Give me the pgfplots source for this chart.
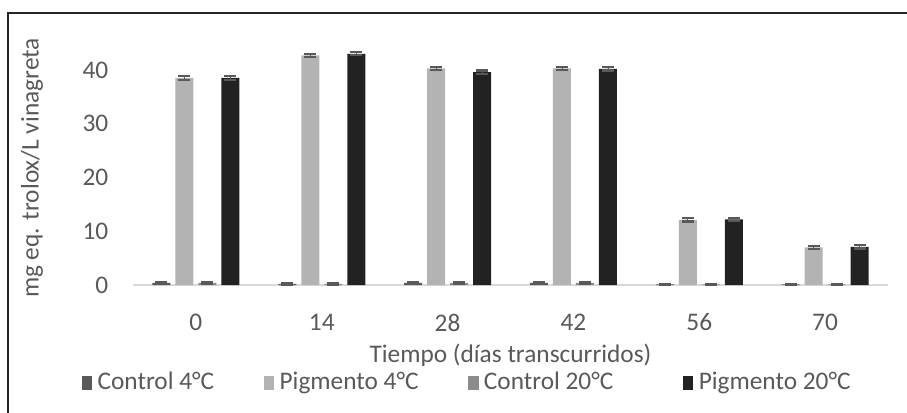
\documentclass[border=0pt]{standalone}
\usepackage{pgfplots}
\pgfplotsset{compat=1.18}
\usepackage{pgfplotstable}
\usepackage{fontspec}
\setmainfont{Carlito}
\definecolor{cA}{HTML}{595959}
\definecolor{cB}{HTML}{B3B3B3}
\definecolor{cC}{HTML}{8C8C8C}
\definecolor{cD}{HTML}{222222}
\definecolor{txt}{HTML}{595959}
\pgfplotstableread{
x y e
0 0.4 0.15
1 0.2 0.1
2 0.4 0.15
3 0.4 0.15
4 0.1 0.05
5 0.1 0.05
}\ctrlA
\pgfplotstableread{
x y e
0 38.5 0.3
1 42.7 0.3
2 40.3 0.3
3 40.3 0.3
4 12.1 0.3
5 7.0 0.3
}\pigA
\pgfplotstableread{
x y e
0 0.4 0.15
1 0.2 0.1
2 0.4 0.15
3 0.4 0.15
4 0.1 0.05
5 0.1 0.05
}\ctrlB
\pgfplotstableread{
x y e
0 38.5 0.3
1 43.0 0.3
2 39.6 0.3
3 40.2 0.3
4 12.2 0.3
5 7.1 0.3
}\pigB
\begin{document}
\fontsize{19}{22}\selectfont
\begin{tikzpicture}
\useasboundingbox (0,0) rectangle (680.25pt,309pt);
\draw[line width=1.5pt, color=black!85] (6pt,-2pt) -- (6pt,299.25pt) -- (682pt,299.25pt);
\begin{axis}[
  at={(99.75pt,95.25pt)}, anchor=south west,
  width=566.25pt, height=181.5pt, scale only axis,
  xmin=-0.5, xmax=5.5, ymin=0, ymax=45,
  ybar=3.75pt, bar width=13.5pt,
  axis x line=bottom, axis y line=left,
  x axis line style={draw=black!15, line width=0.8pt, -},
  y axis line style={draw=none},
  major tick length=0pt,
  xtick={0,1,2,3,4,5}, xticklabels={0,14,28,42,56,70},
  ytick={0,10,20,30,40},
  /pgf/number format/assume math mode=true,
  ticklabel style={font=\fontsize{19}{22}\selectfont, text=txt},
  xticklabel style={yshift=-15pt},
  yticklabel style={xshift=-12pt},
  legend columns=4,
  legend style={at={(0.443,-0.405)}, anchor=center, draw=none, fill=none,
    font=\fontsize{19}{22}\selectfont, text=txt,
    /tikz/every odd column/.append style={column sep=2pt},
    /tikz/every even column/.append style={column sep=35pt}},
  legend image code/.code={\fill[#1,draw=none] (0pt,-5pt) rectangle (8pt,5pt);},
  error bars/y dir=both, error bars/y explicit,
  error bars/error bar style={line width=0.6pt, draw=cA},
  error bars/error mark options={line width=1.6pt, mark size=4.5pt, draw=cA, rotate=90},
]
\addplot[fill=cA, draw=none] table[x=x, y=y, y error=e] {\ctrlA};
\addplot[fill=cB, draw=none] table[x=x, y=y, y error=e] {\pigA};
\addplot[fill=cC, draw=none] table[x=x, y=y, y error=e] {\ctrlB};
\addplot[fill=cD, draw=none] table[x=x, y=y, y error=e] {\pigB};
\legend{Control 4°C, Pigmento 4°C, Control 20°C\hspace*{15pt}, Pigmento 20°C}
\end{axis}
\node[text=txt, anchor=center] at (382.9pt,42.75pt) {Tiempo (días transcurridos)};
\node[text=txt, rotate=90, anchor=center] at (24pt,183pt) {mg eq. trolox/L vinagreta};
\end{tikzpicture}
\end{document}
